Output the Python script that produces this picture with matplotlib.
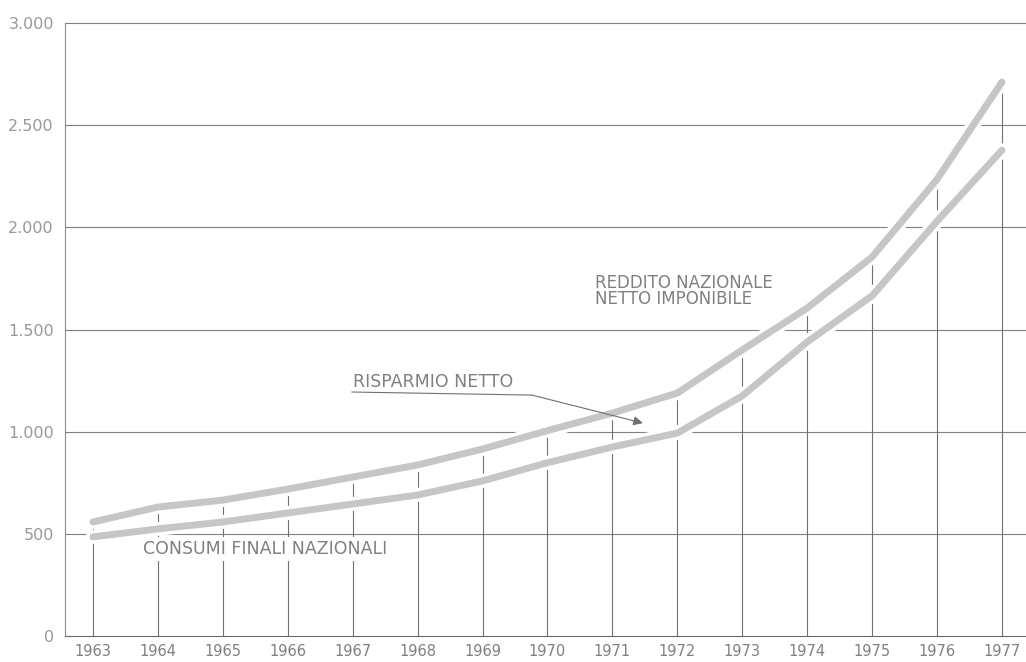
import matplotlib.pyplot as plt
import matplotlib.patheffects as pe

# data (billions of lire)
years = list(range(1963, 1978))
reddito = [558, 631, 665, 719, 778, 837, 915, 1005, 1091, 1189, 1400, 1605, 1855, 2235, 2711]
consumi = [485, 524, 558, 602, 646, 690, 759, 848, 925, 993, 1175, 1439, 1665, 2030, 2378]
yticks = [0, 500, 1000, 1500, 2000, 2500, 3000]
ylabels = ["0", "500", "1.000", "1.500", "2.000", "2.500", "3.000"]

fig = plt.figure(figsize=(10.26, 6.62), dpi=100)
ax = fig.add_axes([65 / 1026, 1 - 636 / 662, 1 - 65 / 1026, (636 - 23) / 662])
ax.set_xlim(1962.57, 1977.37)
ax.set_ylim(0, 3000)

# horizontal grid
for v in yticks[1:]:
    ax.axhline(v, color="#808080", lw=0.8, zorder=1, clip_on=False)

# vertical lines up to the upper curve
ax.vlines(years, 0, reddito, color="#707070", lw=0.8, zorder=1)

halo = [pe.Stroke(linewidth=10, foreground="white"), pe.Normal()]
ax.plot(years, reddito, color="#c6c6c6", lw=5, solid_capstyle="round",
        zorder=3, path_effects=halo)
ax.plot(years, consumi, color="#c6c6c6", lw=5, solid_capstyle="round",
        zorder=3, path_effects=halo)

txt = "#808080"
ax.text(1963.77, 426, "CONSUMI FINALI NAZIONALI", color=txt, fontsize=12.5,
        va="center", ha="left", zorder=4,
        bbox=dict(facecolor="white", edgecolor="none", pad=2))
ax.text(1967.0, 1243, "RISPARMIO NETTO", color=txt, fontsize=12.5,
        va="center", ha="left", zorder=4)
ax.text(1970.73, 1688, "REDDITO NAZIONALE\nNETTO IMPONIBILE", color=txt,
        fontsize=12, va="center", ha="left", linespacing=0.9, zorder=4)

# arrow for risparmio netto
ax.plot([1966.99, 1969.76], [1194, 1179], color="#707070", lw=0.8, zorder=4)
ax.annotate("", xy=(1971.47, 1042), xytext=(1969.76, 1179), zorder=4,
            arrowprops=dict(arrowstyle="-|>", color="#707070", lw=0.8,
                            mutation_scale=14, shrinkA=0, shrinkB=0))

ax.set_xticks(years)
ax.set_xticklabels([str(y) for y in years], color=txt, fontsize=10.5)
ax.set_yticks(yticks)
ax.set_yticklabels(ylabels, color="#999999", fontsize=11.5)
ax.tick_params(length=0, pad=6)
ax.tick_params(axis="y", pad=8)

for s in ["top", "right"]:
    ax.spines[s].set_visible(False)
ax.spines["left"].set_color("#8a8a8a")
ax.spines["left"].set_linewidth(0.8)
ax.spines["bottom"].set_color("#6a6a6a")
ax.spines["bottom"].set_linewidth(0.8)

plt.savefig("out.png", dpi=100)
